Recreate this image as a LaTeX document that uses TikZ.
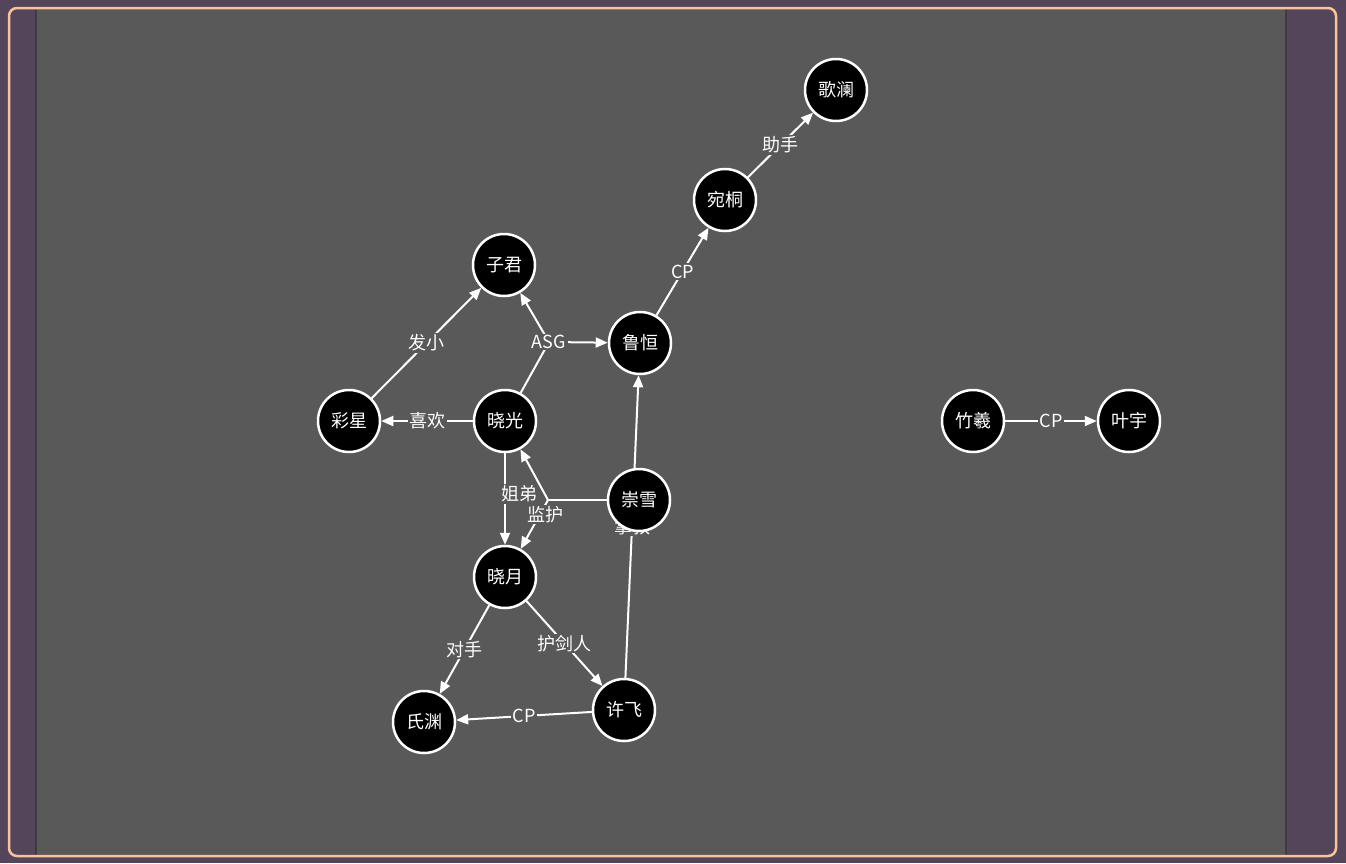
\documentclass[tikz,border=0pt]{standalone}
\usepackage{fontspec}
\setmainfont{Noto Sans CJK SC}
\usepackage{xcolor}
\usetikzlibrary{positioning, arrows.meta}
\pgfdeclarelayer{back}
\pgfdeclarelayer{bg}
\pgfsetlayers{back,bg,main}
\definecolor{frame}{HTML}{55455A}
\definecolor{canvas}{HTML}{595959}
\definecolor{rim}{HTML}{F8C49C}
\definecolor{seam}{HTML}{3C3C44}

\begin{document}
\begin{tikzpicture}[x=1pt, y=-1pt, node distance=156pt,
  per/.style={circle, draw=white, fill=black, line width=2.5, minimum size=62, inner sep=0, text=white, font=\fontsize{18}{20}\selectfont},
  lab/.style={fill=canvas, text=white, inner sep=1.5, font=\fontsize{18}{20}\selectfont},
  link/.style={draw=white, line width=2},
  rel/.style={link, -{Triangle[length=12pt, width=10pt]}}]
\useasboundingbox (0,0) rectangle (1346,863);
% frame %
\begin{pgfonlayer}{back}
\fill[frame] (0,0) rectangle (1346,863);
\fill[canvas] (36,9) rectangle (1286,855);
\draw[seam, line width=1.5] (36,9) -- (36,855);
\draw[seam, line width=1.5] (1286,9) -- (1286,855);
\draw[rim, line width=2.5, rounded corners=8] (9,8) rectangle (1336,856);
\end{pgfonlayer}
% nodes %
\node[per] (xg) at (505,421) {晓光};
\node[per, left of = xg] (cx) {彩星};
\node[per, below of = xg] (xy) {晓月};
\node[per] (zj) at (504,265) {子君};
\node[per] (lh) at (640,343) {鲁恒};
\node[per] (wt) at (725,200) {宛桐};
\node[per] (gl) at (836,90) {歌澜};
\node[per] (chx) at (639,500) {崇雪};
\node[per] (xf) at (624,710) {许飞};
\node[per] (sy) at (424,722) {氏渊};
\node[per] (zx) at (973,421) {竹羲};
\node[per, right of = zx] (yy) {叶宇};
\coordinate (asg) at (549,342);
\coordinate (br) at (548,500);
% edges %
\begin{pgfonlayer}{bg}
\draw[rel] (wt) -- node[lab] {助手} (gl);
\draw[rel] (lh) -- node[lab] {CP} (wt);
\draw[rel] (cx) -- node[lab] {发小} (zj);
\draw[link] (xg) -- (asg);
\draw[rel] (asg) -- (zj);
\draw[rel] (asg) -- (lh);
\node[lab] at (asg) {ASG};
\draw[rel] (xg) -- node[lab] {喜欢} (cx);
\draw[rel] (xg) -- node[lab, xshift=14pt, yshift=5pt] {姐弟} (xy);
\draw[link] (chx) -- (br);
\draw[rel] (br) -- (xg);
\draw[rel] (br) -- node[lab, pos=0.3, xshift=6pt] {监护} (xy);
\draw[rel] (xf) -- node[lab] {掌教} (lh);
\draw[rel] (xy) -- node[lab] {对手} (sy);
\draw[rel] (xy) -- node[lab] {护剑人} (xf);
\draw[rel] (xf) -- node[lab] {CP} (sy);
\draw[rel] (zx) -- node[lab] {CP} (yy);
\end{pgfonlayer}
\end{tikzpicture}
\end{document}
